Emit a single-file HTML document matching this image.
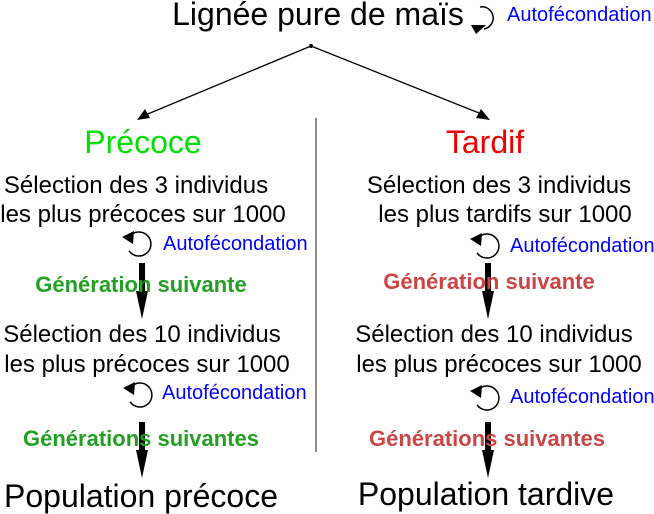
<!DOCTYPE html>
<html><head><meta charset="utf-8"><style>
html,body{margin:0;padding:0;background:#fff;}
svg{display:block;font-family:"Liberation Sans",sans-serif;}
</style></head><body>
<svg width="654" height="514" viewBox="0 0 654 514" xmlns="http://www.w3.org/2000/svg">
<defs>
<g id="loopL">
<path d="M -8 -9 A 12 12 0 1 1 -11 5" fill="none" stroke="#000" stroke-width="1.5" transform="rotate(-10)"/>
<polygon points="-17,-7 -5,-13 -6,0" fill="#000"/>
</g>
<g id="dn">
<rect x="-3" y="0" width="6" height="30" fill="#000"/>
<polygon points="-6,28 6,28 0,56" fill="#000"/>
</g>
</defs>
<text x="318" y="25" font-size="32" text-anchor="middle">Lignée pure de maïs</text>
<path d="M 480 7 A 11 11 0 1 1 484 29" fill="none" stroke="#000" stroke-width="1.5"/>
<polygon points="471,25 486,25 476,34" fill="#000"/>
<text x="507" y="21" font-size="20" fill="#0000ff">Autofécondation</text>
<circle cx="311" cy="46" r="2" fill="#000"/>
<line x1="311" y1="46" x2="143" y2="116" stroke="#000" stroke-width="1.3"/>
<polygon points="137,120 145,109 150,118" fill="#000"/>
<line x1="311" y1="46" x2="484" y2="115" stroke="#000" stroke-width="1.3"/>
<polygon points="490,120 476,118 481,109" fill="#000"/>
<line x1="316" y1="118" x2="316" y2="452" stroke="#444" stroke-width="1.2"/>
<text x="143" y="153" font-size="32" text-anchor="middle" fill="#00e000">Précoce</text>
<text x="485" y="153" font-size="32" text-anchor="middle" fill="#ee0000">Tardif</text>
<g font-size="24" text-anchor="middle">
<text x="136" y="193">Sélection des 3 individus</text>
<text x="143" y="222">les plus précoces sur 1000</text>
<text x="499" y="193">Sélection des 3 individus</text>
<text x="505" y="222">les plus tardifs sur 1000</text>
<text x="142" y="342">Sélection des 10 individus</text>
<text x="147" y="372">les plus précoces sur 1000</text>
<text x="494" y="342">Sélection des 10 individus</text>
<text x="499" y="372">les plus précoces sur 1000</text>
</g>
<use href="#loopL" x="139" y="244"/>
<use href="#loopL" x="487" y="246"/>
<use href="#loopL" x="140" y="395"/>
<use href="#loopL" x="487" y="398"/>
<g font-size="20" fill="#0000ff">
<text x="163" y="250">Autofécondation</text>
<text x="510" y="252">Autofécondation</text>
<text x="162" y="399">Autofécondation</text>
<text x="510" y="403">Autofécondation</text>
</g>
<use href="#dn" x="142" y="263"/>
<use href="#dn" x="488" y="263"/>
<use href="#dn" x="142" y="422"/>
<use href="#dn" x="488" y="422"/>
<g font-size="22" font-weight="bold" text-anchor="middle">
<text x="141" y="292" fill="#22a022">Génération suivante</text>
<text x="141" y="446" fill="#22a022">Générations suivantes</text>
<text x="489" y="289" fill="#cc4444">Génération suivante</text>
<text x="487" y="446" fill="#cc4444">Générations suivantes</text>
</g>
<text x="141" y="507" font-size="32" text-anchor="middle">Population précoce</text>
<text x="486" y="505" font-size="32" text-anchor="middle">Population tardive</text>
</svg>
</body></html>
